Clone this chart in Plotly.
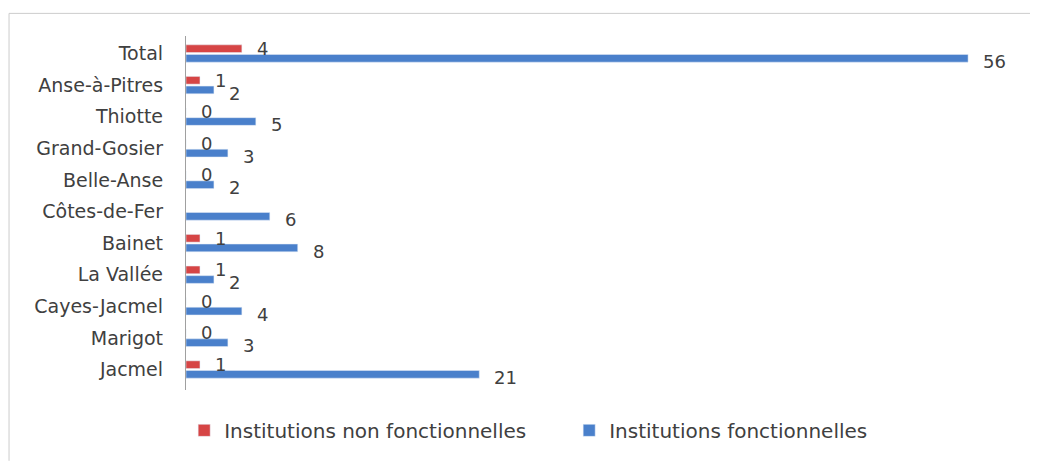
import plotly.graph_objs as go

communes = ["Jacmel", "Marigot", "Cayes-Jacmel", "La Vallée", "Bainet", "Côtes-de-Fer",
            "Belle-Anse", "Grand-Gosier", "Thiotte", "Anse-à-Pitres", "Total"]
non_fonctionnelles = [1, 0, 0, 1, 1, None, 0, 0, 0, 1, 4]
fonctionnelles = [21, 3, 4, 2, 8, 6, 2, 3, 5, 2, 56]

font = "DejaVu Sans, Arial, sans-serif"

trace_blue = go.Bar(y=communes, x=fonctionnelles, orientation='h', name='Institutions fonctionnelles',
                    marker={'color': '#4A80CB'})
trace_red = go.Bar(y=communes, x=non_fonctionnelles, orientation='h', name='Institutions non fonctionnelles',
                   marker={'color': '#D64545'})

# data labels, Excel style: red one level with its bar, blue one a bit below its bar
labels = []
for c, v in zip(communes, non_fonctionnelles):
    if v is not None:
        labels.append({'x': v, 'y': c, 'text': str(v), 'xanchor': 'left', 'xshift': 13, 'yshift': 5})
for c, v in zip(communes, fonctionnelles):
    labels.append({'x': v, 'y': c, 'text': str(v), 'xanchor': 'left', 'xshift': 13, 'yshift': -8})
for a in labels:
    a.update({'xref': 'x', 'yref': 'y', 'showarrow': False,
              'font': {'size': 18, 'color': '#404040', 'family': font}})

# page body has an 8px margin, so the figure is 8px smaller and margins shifted
layout = go.Layout(
    width=1030, height=454,
    margin={'l': 178, 'r': 35, 't': 28, 'b': 66},
    paper_bgcolor='white', plot_bgcolor='white',
    barmode='group', bargap=0.39, bargroupgap=0.2,
    font={'family': font, 'color': '#404040', 'size': 19},
    xaxis={'range': [0, 58.5], 'showgrid': False, 'showticklabels': False, 'zeroline': False,
           'showline': False, 'ticks': ''},
    yaxis={'type': 'category', 'showgrid': False, 'showline': True, 'linecolor': '#A0A0A0',
           'linewidth': 1, 'ticks': '', 'ticksuffix': '   ', 'tickfont': {'size': 19}},
    legend={'orientation': 'h', 'x': 0.469, 'xanchor': 'center', 'y': -0.114, 'yanchor': 'middle',
            'traceorder': 'reversed', 'font': {'size': 20}, 'entrywidth': 340},
    annotations=labels,
    shapes=[
        {'type': 'line', 'xref': 'paper', 'yref': 'paper', 'x0': -0.2166, 'x1': 1.05,
         'y0': 1.0639, 'y1': 1.0639, 'line': {'color': '#CCCCCC', 'width': 1}},
        {'type': 'line', 'xref': 'paper', 'yref': 'paper', 'x0': -0.2166, 'x1': -0.2166,
         'y0': 1.0639, 'y1': -0.2, 'line': {'color': '#CCCCCC', 'width': 1}},
    ],
)

fig = go.Figure([trace_blue, trace_red], layout=layout)
fig.write_html("out.html")
